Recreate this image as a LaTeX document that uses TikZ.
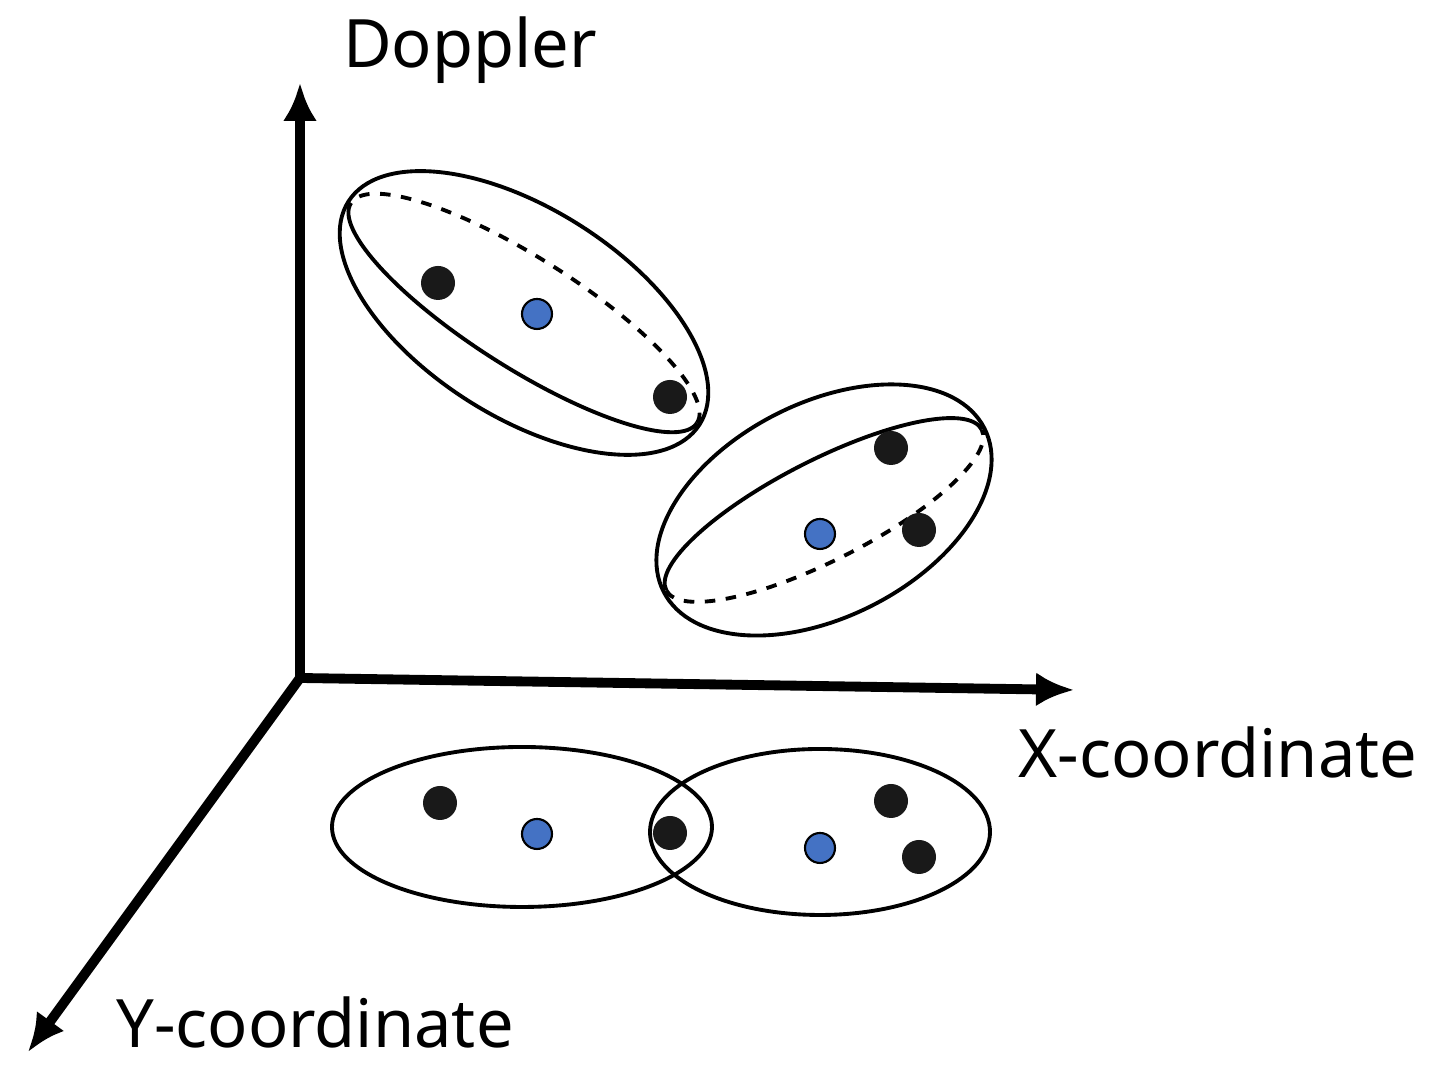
\documentclass[tikz,border=0pt]{standalone}
\usepackage{fontspec}
\setmainfont{Noto Sans}
\usetikzlibrary{arrows.meta}
\begin{document}
\begin{tikzpicture}[
    blackdot/.style={circle, fill=black!90, inner sep=0pt, minimum size=0.34cm},
    bluedot/.style={circle, fill={rgb,255:red,68;green,114;blue,196}, draw=black, line width=0.6pt, inner sep=0pt, minimum size=0.3cm},
    axis/.style={line width=2.8pt, -{Latex[length=0.38cm,width=0.34cm]}},
    lbl/.style={font=\fontsize{19}{22}\selectfont}]
  \useasboundingbox (0,0) rectangle (14.4,10.78);
  % Axes
  \coordinate (O) at (3.0,4.0);
  \coordinate (D) at (3.0,9.95);
  \coordinate (X) at (10.74,3.88);
  \coordinate (Y) at (0.28,0.26);
  \draw[axis] (O) -- (D);
  \draw[axis] (O) -- (X);
  \draw[axis] (O) -- (Y);
  \node[lbl] (dlab) at (4.7,10.28) {Doppler};
  \node[lbl] (xlab) at (12.18,3.26) {X-coordinate};
  \node[lbl] (ylab) at (3.15,0.56) {Y-coordinate};

  % Upper cluster
  \begin{scope}[shift={(5.24,7.65)}, rotate=-32.4, line width=1.1pt]
    \draw (0,0) ellipse (2.08cm and 1.04cm);
    \draw[dashed] (2.05,0) arc (0:180:2.05cm and 0.55cm);
    \draw (-2.05,0) arc (180:360:2.05cm and 0.55cm);
  \end{scope}
  % Middle cluster
  \begin{scope}[shift={(8.24,5.68)}, rotate=27, line width=1.1pt]
    \draw (0,0) ellipse (1.8cm and 1.07cm);
    \draw (1.77,0) arc (0:180:1.77cm and 0.5cm);
    \draw[dashed] (-1.77,0) arc (180:360:1.77cm and 0.5cm);
  \end{scope}
  % Ground clusters
  \draw[line width=1.1pt] (5.22,2.51) ellipse (1.9cm and 0.8cm);
  \draw[line width=1.1pt] (8.2,2.46) ellipse (1.7cm and 0.83cm);

  % Points
  \node[blackdot] (a1) at (4.38,7.95) {};
  \node[bluedot]  (c1) at (5.37,7.64) {};
  \node[blackdot] (a2) at (6.70,6.81) {};
  \node[blackdot] (b1) at (8.91,6.30) {};
  \node[bluedot]  (c2) at (8.20,5.44) {};
  \node[blackdot] (b2) at (9.19,5.48) {};
  \node[blackdot] (p1) at (4.40,2.75) {};
  \node[bluedot]  (p2) at (5.37,2.44) {};
  \node[blackdot] (p3) at (6.70,2.45) {};
  \node[blackdot] (q1) at (8.91,2.77) {};
  \node[bluedot]  (q2) at (8.20,2.30) {};
  \node[blackdot] (q3) at (9.19,2.21) {};
\end{tikzpicture}
\end{document}
